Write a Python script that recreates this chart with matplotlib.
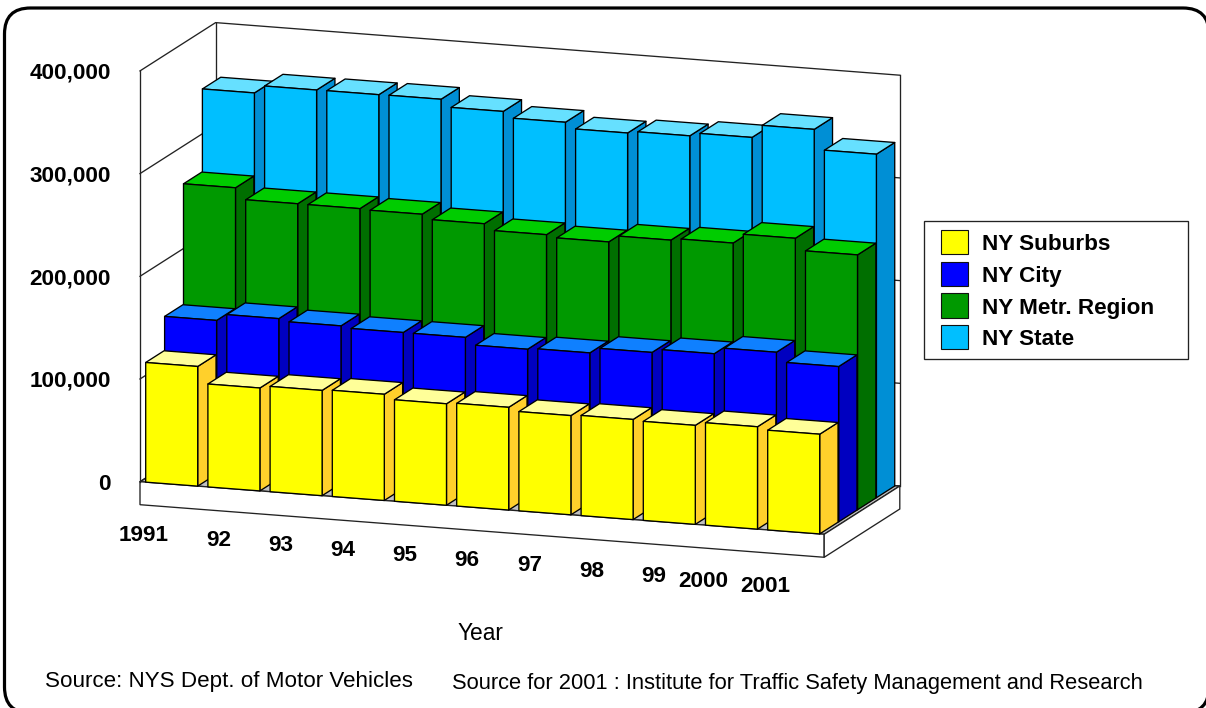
import numpy as np
import matplotlib
matplotlib.use('Agg')
import matplotlib.pyplot as plt
from matplotlib.patches import Polygon, Rectangle, FancyBboxPatch

plt.rcParams['font.family'] = ['Liberation Sans', 'DejaVu Sans']

# data
years = ['1991', '92', '93', '94', '95', '96', '97', '98', '99', '2000', '2001']
suburbs = [116500, 100200, 102500, 103400, 98800, 100000, 96600, 97500, 96400, 99700, 97100]
city = [149600, 156000, 153600, 151800, 151700, 144800, 145900, 151000, 154400, 160500, 151200]
metro = [267000, 256100, 256000, 255200, 250600, 244600, 242200, 248600, 250400, 259700, 248200]
state = [347600, 355100, 355200, 355400, 348200, 342300, 336500, 338400, 341500, 354000, 334500]
names = ['NY Suburbs', 'NY City', 'NY Metr. Region', 'NY State']
y_ticks = [0, 100000, 200000, 300000, 400000]

# front, side, top colour of each series
front = ['#FFFF00', '#0000FF', '#009900', '#00BFFF']
side = ['#FFD02B', '#0000C0', '#006F00', '#008FD5']
top = ['#FFFF99', '#0F80FF', '#00CC00', '#66E0FF']

# oblique projection: category, value, depth slot -> pixels
origin = np.array([140.0, 481.7])
ex = np.array([62.2, 4.78])
ev = np.array([0.0, -102.7 / 100000])
ed = np.array([18.9, -12.07])


def proj(c, v, d):
    return origin + c * ex + v * ev + d * ed


fig = plt.figure(figsize=(12.06, 7.08), dpi=100)
ax = fig.add_axes([0, 0, 1, 1])
ax.set_xlim(0, 1206)
ax.set_ylim(708, 0)
ax.axis('off')

# outer frame
ax.add_patch(FancyBboxPatch((4.5, 8), 1204.5, 705, boxstyle='round,pad=0,rounding_size=26',
                            fc='white', ec='black', lw=2.3))

n = len(years)
vmax = y_ticks[-1]
wall = dict(color='#222222', lw=0.95, solid_capstyle='projecting', zorder=2)

# floor
thick = np.array([0, 23.0])
fl = [proj(0, 0, 0), proj(n, 0, 0), proj(n, 0, 4), proj(0, 0, 4)]
ax.add_patch(Polygon(fl, fc='#C0C0C0', ec='#222222', lw=0.95, zorder=2))
ax.add_patch(Polygon([fl[0], fl[1], fl[1] + thick, fl[0] + thick], fc='white', ec='#222222', lw=0.95, zorder=2))
ax.add_patch(Polygon([fl[1], fl[2], fl[2] + thick, fl[1] + thick], fc='white', ec='#222222', lw=0.95, zorder=2))

# walls and gridlines
for v in y_ticks:
    a, b, c = proj(0, v, 0), proj(0, v, 4), proj(n, v, 4)
    ax.plot([a[0], b[0], c[0]], [a[1], b[1], c[1]], **wall)
for p, q in [(proj(0, 0, 0), proj(0, vmax, 0)), (proj(0, 0, 4), proj(0, vmax, 4)), (proj(n, 0, 4), proj(n, vmax, 4))]:
    ax.plot([p[0], q[0]], [p[1], q[1]], **wall)

# bars, back series first, left to right
gap = 0.0916
width = 0.836
series = [suburbs, city, metro, state]
z = 3
for s in range(3, -1, -1):
    for i, v in enumerate(series[s]):
        c0, c1 = i + gap, i + gap + width
        d0, d1 = s, s + 0.97
        faces = [
            ([proj(c1, 0, d0), proj(c1, 0, d1), proj(c1, v, d1), proj(c1, v, d0)], side[s]),
            ([proj(c0, v, d0), proj(c1, v, d0), proj(c1, v, d1), proj(c0, v, d1)], top[s]),
            ([proj(c0, 0, d0), proj(c1, 0, d0), proj(c1, v, d0), proj(c0, v, d0)], front[s]),
        ]
        for pts, col in faces:
            ax.add_patch(Polygon(pts, fc=col, ec='black', lw=0.95, joinstyle='round', zorder=z))
        z += 1

# value labels
for v in y_ticks:
    p = proj(0, v, 0)
    ax.text(p[0] - 29, p[1] + 2.5, f'{v:,}', ha='right', va='center', fontsize=16.2, fontweight='bold', zorder=50)

# year labels
for i, lab in enumerate(years):
    p = proj(i + gap + width, 0, 0)
    ax.text(p[0] - 29, p[1] + 49 + 0.35 * i, lab, ha='right', va='center', fontsize=16.2, fontweight='bold', zorder=50)

ax.text(480, 634, 'Year', ha='center', va='center', fontsize=16.4)
ax.text(45, 682, 'Source: NYS Dept. of Motor Vehicles', ha='left', va='center', fontsize=16.1)
ax.text(452, 683, 'Source for 2001 : Institute for Traffic Safety Management and Research', ha='left', va='center', fontsize=15.73)

# legend
ax.add_patch(Rectangle((924.3, 220.7), 263.7, 138.6, fc='white', ec='#222222', lw=0.95, zorder=50))
for k, name in enumerate(names):
    yy = 230 + k * 31.65
    ax.add_patch(Rectangle((941, yy), 26.7, 24.3, fc=front[k], ec='#111111', lw=0.8, zorder=51))
    ax.text(982.5, yy + 15, name, ha='left', va='center', fontsize=16.2, fontweight='bold', zorder=51)

fig.savefig('out.png', dpi=100)
